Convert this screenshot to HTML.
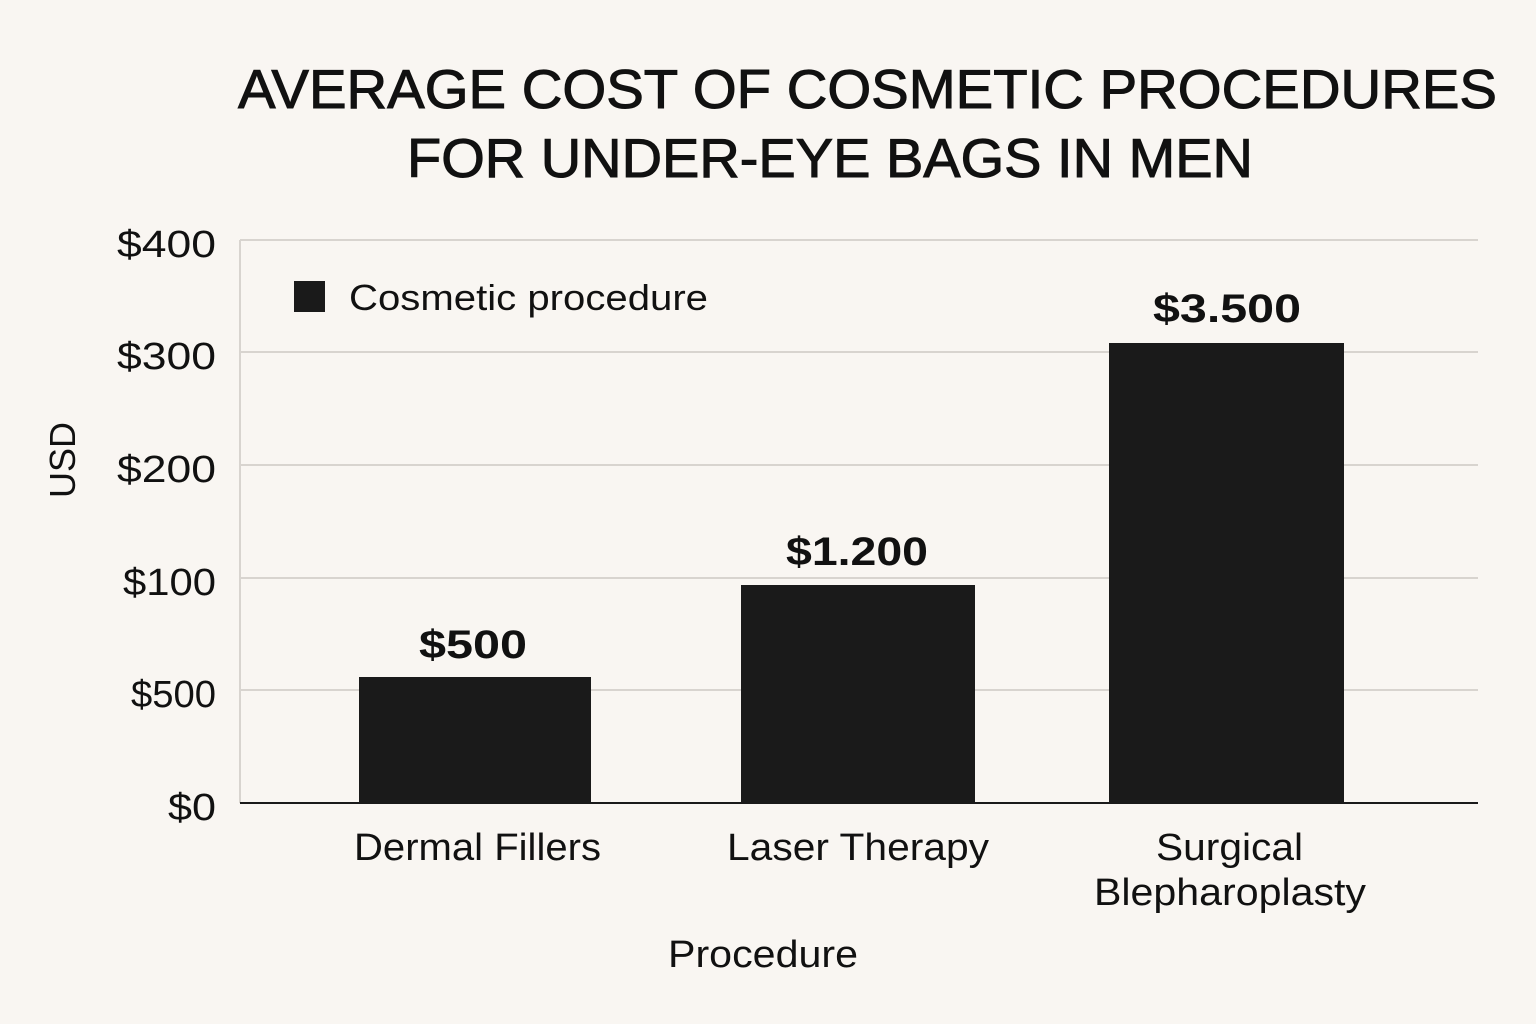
<!DOCTYPE html>
<html><head><meta charset="utf-8"><style>
html,body{margin:0;padding:0;background:#f9f6f2;}
svg{display:block;font-family:"Liberation Sans",sans-serif;}
</style></head><body>
<svg width="1536" height="1024" viewBox="0 0 1536 1024">
<rect width="1536" height="1024" fill="#f9f6f2"/>
<g font-size="55" fill="#111" stroke="#111" stroke-width="1">
<text x="238" y="108" textLength="1259" lengthAdjust="spacingAndGlyphs">AVERAGE COST OF COSMETIC PROCEDURES</text>
<text x="407" y="177" textLength="846" lengthAdjust="spacingAndGlyphs">FOR UNDER-EYE BAGS IN MEN</text>
</g>
<g stroke="#d8d4cf" stroke-width="2">
<line x1="240" y1="240" x2="1478" y2="240"/>
<line x1="240" y1="352" x2="1478" y2="352"/>
<line x1="240" y1="465" x2="1478" y2="465"/>
<line x1="240" y1="578" x2="1478" y2="578"/>
<line x1="240" y1="690" x2="1478" y2="690"/>
<line x1="240" y1="240" x2="240" y2="803"/>
</g>
<line x1="240" y1="803" x2="1478" y2="803" stroke="#1a1a1a" stroke-width="2"/>
<g font-size="38" fill="#111">
<text x="117" y="257" textLength="99" lengthAdjust="spacingAndGlyphs">$400</text>
<text x="117" y="369" textLength="99" lengthAdjust="spacingAndGlyphs">$300</text>
<text x="117" y="482" textLength="99" lengthAdjust="spacingAndGlyphs">$200</text>
<text x="123" y="595" textLength="93" lengthAdjust="spacingAndGlyphs">$100</text>
<text x="131" y="707" textLength="85" lengthAdjust="spacingAndGlyphs">$500</text>
<text x="168" y="820" textLength="48" lengthAdjust="spacingAndGlyphs">$0</text>
</g>
<text transform="translate(75,460) rotate(-90)" font-size="36" fill="#111" text-anchor="middle">USD</text>
<rect x="294" y="281" width="31" height="31" fill="#1a1a1a"/>
<text x="349" y="310" font-size="36" fill="#111" textLength="359" lengthAdjust="spacingAndGlyphs">Cosmetic procedure</text>
<g fill="#1a1a1a">
<rect x="359" y="677" width="232" height="126"/>
<rect x="741" y="585" width="234" height="218"/>
<rect x="1109" y="343" width="235" height="460"/>
</g>
<g font-size="40" font-weight="bold" fill="#111">
<text x="419" y="658" textLength="108" lengthAdjust="spacingAndGlyphs">$500</text>
<text x="786" y="565" textLength="142" lengthAdjust="spacingAndGlyphs">$1.200</text>
<text x="1153" y="322" textLength="148" lengthAdjust="spacingAndGlyphs">$3.500</text>
</g>
<g font-size="38" fill="#111">
<text x="354" y="860" textLength="247" lengthAdjust="spacingAndGlyphs">Dermal Fillers</text>
<text x="727" y="860" textLength="262" lengthAdjust="spacingAndGlyphs">Laser Therapy</text>
<text x="1156" y="860" textLength="147" lengthAdjust="spacingAndGlyphs">Surgical</text>
<text x="1094" y="905" textLength="272" lengthAdjust="spacingAndGlyphs">Blepharoplasty</text>
<text x="668" y="967" textLength="190" lengthAdjust="spacingAndGlyphs">Procedure</text>
</g>
</svg>
</body></html>
